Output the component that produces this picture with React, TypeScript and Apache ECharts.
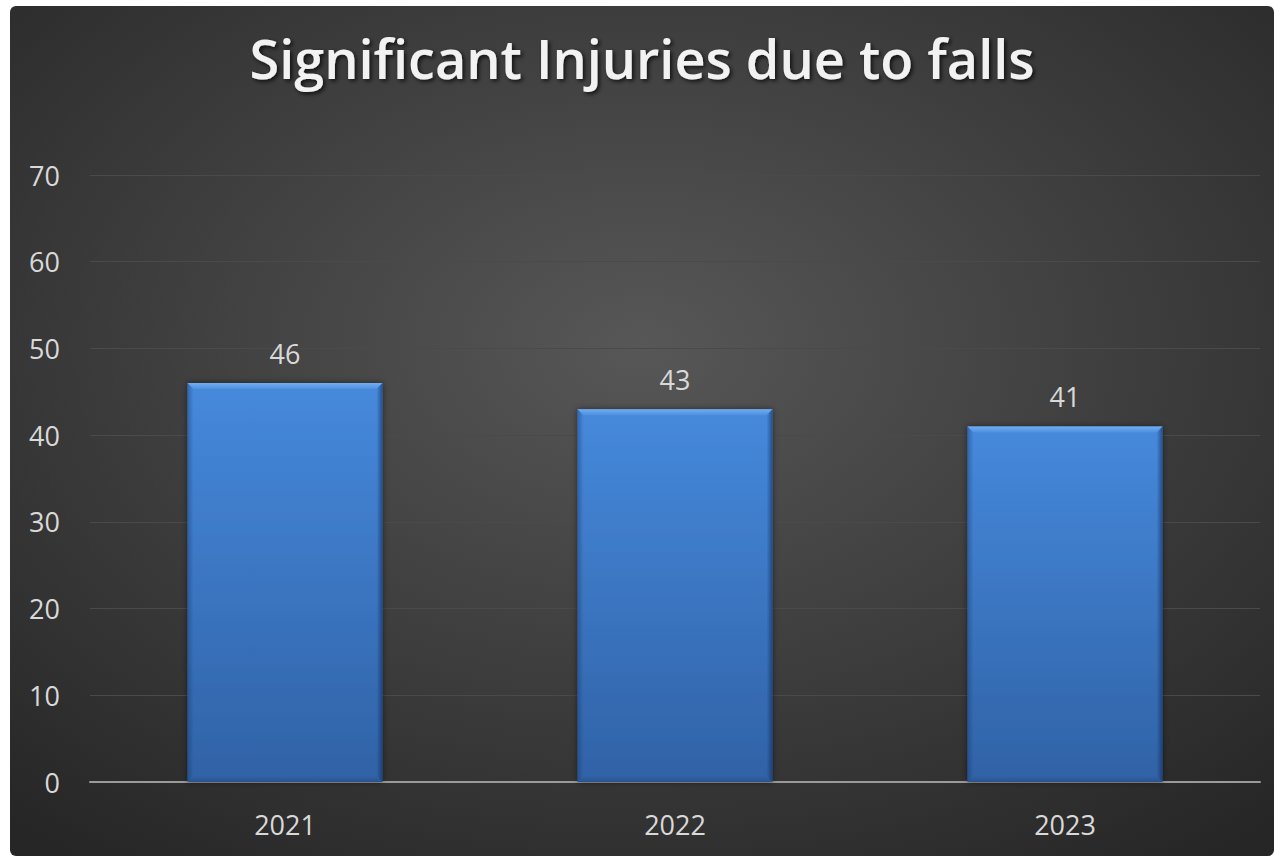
import React, { useEffect, useRef } from "react";
import * as echarts from "echarts";

const categories = ["2021", "2022", "2023"];
const injuries = [46, 43, 41];
const yTicks = { min: 0, max: 70, interval: 10 };
const titleText = "Significant Injuries due to falls";

export default function App() {
  const ref = useRef<HTMLDivElement>(null);
  useEffect(() => {
    if (!ref.current) return;
    const chart = echarts.init(ref.current, undefined, { renderer: "svg" });
    const bevel = 6;
    chart.setOption({
      animation: false,
      backgroundColor: new echarts.graphic.RadialGradient(0.5, 0.4, 0.75, [
        { offset: 0, color: "#575757" },
        { offset: 1, color: "#262626" },
      ]),
      title: {
        text: titleText,
        left: "center",
        top: 20,
        textStyle: {
          color: "#f2f2f2",
          fontSize: 54,
          fontWeight: 600,
          fontFamily: "Open Sans",
          textShadowColor: "rgba(0,0,0,0.75)",
          textShadowBlur: 4,
          textShadowOffsetX: 2,
          textShadowOffsetY: 2,
        },
      },
      grid: { left: 80, right: 14, top: 169, bottom: 74, containLabel: false },
      xAxis: {
        type: "category",
        data: categories,
        axisLine: { lineStyle: { color: "#9a9a9a", width: 2 } },
        axisTick: { show: false },
        axisLabel: { color: "#d9d9d9", fontSize: 27, fontFamily: "Open Sans", margin: 29 },
      },
      yAxis: {
        type: "value",
        min: yTicks.min,
        max: yTicks.max,
        interval: yTicks.interval,
        axisLine: { show: false },
        axisTick: { show: false },
        axisLabel: { color: "#d9d9d9", fontSize: 27, fontFamily: "Open Sans", margin: 30 },
        splitLine: { lineStyle: { color: "#4a4a4a", width: 1 } },
      },
      series: [
        {
          type: "bar",
          data: injuries,
          barWidth: "50%",
          z: 2,
          label: {
            show: true,
            position: "top",
            distance: 16,
            color: "#d9d9d9",
            fontSize: 27,
            fontFamily: "Open Sans",
          },
          itemStyle: {
            color: new echarts.graphic.LinearGradient(0, 0, 0, 1, [
              { offset: 0, color: "#4689dc" },
              { offset: 1, color: "#3062a6" },
            ]),
            shadowColor: "rgba(0,0,0,0.5)",
            shadowBlur: 6,
          },
        },
        {
          type: "custom",
          data: injuries.map((v, i) => [i, v]),
          z: 3,
          silent: true,
          renderItem: (params: any, api: any) => {
            const top = api.coord([api.value(0), api.value(1)]);
            const base = api.coord([api.value(0), 0]);
            const w = api.size([1, 0])[0] * 0.5;
            const x0 = top[0] - w / 2;
            const x1 = top[0] + w / 2;
            const y0 = top[1];
            const y1 = base[1];
            const b = bevel;
            return {
              type: "group",
              children: [
                {
                  type: "polygon",
                  shape: { points: [[x0, y0], [x1, y0], [x1 - b, y0 + b], [x0 + b, y0 + b]] },
                  style: {
                    fill: new echarts.graphic.LinearGradient(0, 0, 0, 1, [
                      { offset: 0, color: "#72adf0" },
                      { offset: 1, color: "#4d8fe0" },
                    ]),
                  },
                },
                {
                  type: "polygon",
                  shape: { points: [[x0, y0], [x0 + b, y0 + b], [x0 + b, y1 - b], [x0, y1]] },
                  style: {
                    fill: new echarts.graphic.LinearGradient(0, 0, 1, 0, [
                      { offset: 0, color: "rgba(20,50,100,0.4)" },
                      { offset: 1, color: "rgba(20,50,100,0.0)" },
                    ]),
                  },
                },
                {
                  type: "polygon",
                  shape: { points: [[x1, y0], [x1 - b, y0 + b], [x1 - b, y1 - b], [x1, y1]] },
                  style: {
                    fill: new echarts.graphic.LinearGradient(1, 0, 0, 0, [
                      { offset: 0, color: "rgba(15,40,85,0.6)" },
                      { offset: 1, color: "rgba(15,40,85,0.0)" },
                    ]),
                  },
                },
                {
                  type: "polygon",
                  shape: { points: [[x0, y1], [x0 + b, y1 - b], [x1 - b, y1 - b], [x1, y1]] },
                  style: {
                    fill: new echarts.graphic.LinearGradient(0, 1, 0, 0, [
                      { offset: 0, color: "rgba(20,45,90,0.3)" },
                      { offset: 1, color: "rgba(20,45,90,0.0)" },
                    ]),
                  },
                },
              ],
            };
          },
        },
      ],
    });
    return () => chart.dispose();
  }, []);
  return (
    <div
      ref={ref}
      style={{
        position: "absolute",
        left: 10,
        top: 6,
        width: 1264,
        height: 850,
        borderRadius: 6,
        overflow: "hidden",
      }}
    />
  );
}
